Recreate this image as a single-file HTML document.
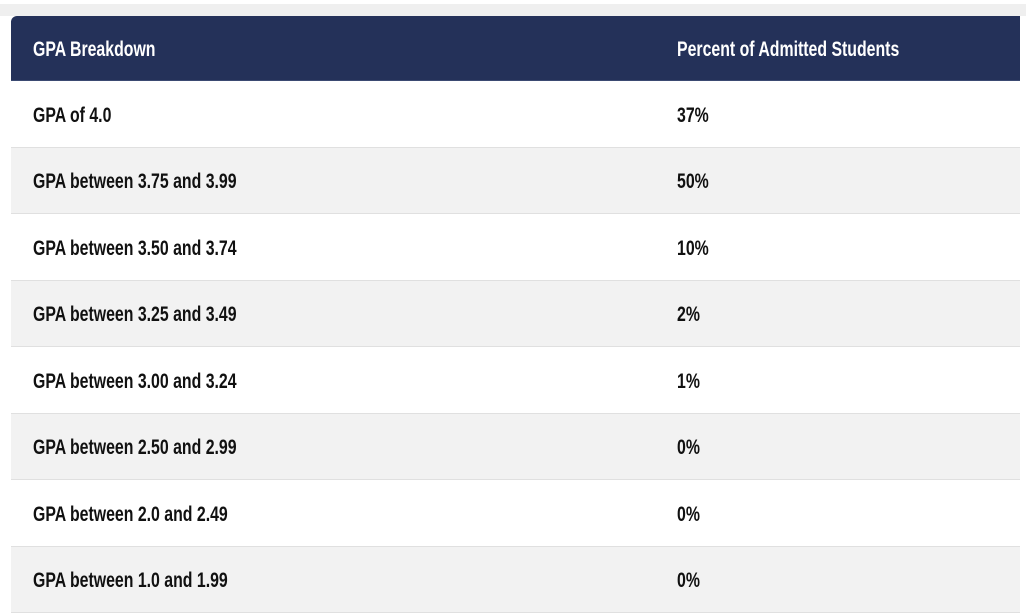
<!DOCTYPE html>
<html><head><meta charset="utf-8"><style>
html,body{margin:0;padding:0;width:1026px;height:612px;overflow:hidden;background:#fff;font-family:"Liberation Sans",sans-serif;}
.top{position:absolute;left:0;top:4px;width:1026px;height:12px;background:#efefef;}
.tbl{position:absolute;left:11px;top:16px;width:1009px;}
.hdr{height:65px;background:#243159;color:#fff;border-top-left-radius:6px;position:relative;border-bottom:1px solid #3b4a72;box-sizing:border-box;}
.row{height:66.5px;position:relative;border-bottom:1px solid #e0e0e0;box-sizing:border-box;color:#111;}
.row:nth-child(odd){background:#fff;}
.row:nth-child(even){background:#f2f2f2;}
.c1,.c2{position:absolute;top:calc(50% + 2px);transform-origin:0 50%;transform:translateY(-50%) scaleX(0.755);font-size:21px;font-weight:bold;white-space:nowrap;}
.c1{left:22px}.c2{left:666px}
</style></head><body>
<div class="top"></div>
<div class="tbl">
<div class="hdr"><span class="c1">GPA Breakdown</span><span class="c2">Percent of Admitted Students</span></div>
<div>
<div class="row"><span class="c1">GPA of 4.0</span><span class="c2">37%</span></div>
<div class="row"><span class="c1">GPA between 3.75 and 3.99</span><span class="c2">50%</span></div>
<div class="row"><span class="c1">GPA between 3.50 and 3.74</span><span class="c2">10%</span></div>
<div class="row"><span class="c1">GPA between 3.25 and 3.49</span><span class="c2">2%</span></div>
<div class="row"><span class="c1">GPA between 3.00 and 3.24</span><span class="c2">1%</span></div>
<div class="row"><span class="c1">GPA between 2.50 and 2.99</span><span class="c2">0%</span></div>
<div class="row"><span class="c1">GPA between 2.0 and 2.49</span><span class="c2">0%</span></div>
<div class="row"><span class="c1">GPA between 1.0 and 1.99</span><span class="c2">0%</span></div>
</div>
</div>
</body></html>
